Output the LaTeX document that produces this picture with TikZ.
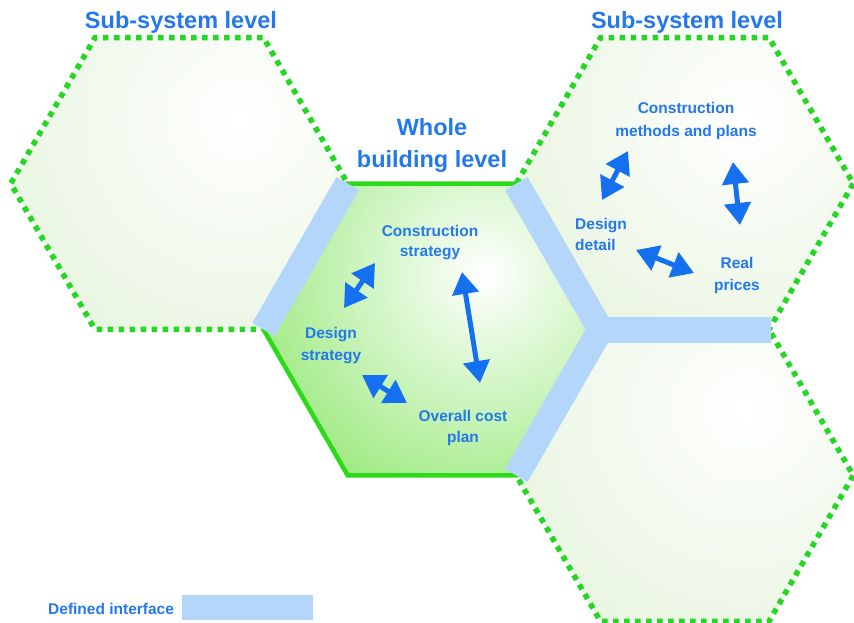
\documentclass[tikz,border=0pt]{standalone}
\usepackage{fontspec}
\setmainfont{Liberation Sans}
\usetikzlibrary{arrows.meta}

\definecolor{labelblue}{RGB}{35,120,235}
\definecolor{arrowblue}{RGB}{20,112,238}
\definecolor{bandblue}{RGB}{180,214,250}
\definecolor{dotgreen}{RGB}{35,215,35}
\definecolor{rimgreen}{RGB}{45,218,25}
\definecolor{coregreen}{RGB}{100,222,55}
\definecolor{palegreen}{RGB}{220,239,207}

\def\hexR{168.5}

\begin{document}
\begin{tikzpicture}[x=1pt,y=-1pt,
  bigtitle/.style={font=\fontsize{23.5}{32}\selectfont\bfseries, text=labelblue,
    inner sep=0pt, anchor=north, align=center},
  tag/.style={font=\fontsize{15.5}{21}\selectfont\bfseries, text=labelblue,
    inner sep=0pt, anchor=north, align=center},
  band/.style={line width=26pt, draw=bandblue, line cap=butt},
  dotrim/.style={draw=dotgreen, line width=5.5pt, dash pattern=on 5.5pt off 5.5pt},
  solidrim/.style={draw=rimgreen, line width=4.5pt, line join=miter},
  link/.style={draw=arrowblue, line width=5pt,
    {Triangle[length=22pt,width=26pt]}-{Triangle[length=22pt,width=26pt]}}
]
\useasboundingbox (0,0) rectangle (854,623);

% hexagon centres of the honeycomb
\coordinate (hubC) at (432,329.5);
\coordinate (westC) at (179.25,183.57);
\coordinate (northeastC) at (684.75,183.57);
\coordinate (southeastC) at (684.75,475.43);

% sub-system cells: pale radial glow with a dotted rim
\foreach \cell in {westC,northeastC,southeastC}{
  \begin{scope}[shift={(\cell)}]
    \begin{scope}
      \clip (0:\hexR) -- (60:\hexR) -- (120:\hexR) -- (180:\hexR)
        -- (240:\hexR) -- (300:\hexR) -- cycle;
      \shade[inner color=white, outer color=palegreen] (60,-65) circle (400);
    \end{scope}
    \draw[dotrim] (0:\hexR) -- (60:\hexR) -- (120:\hexR) -- (180:\hexR)
      -- (240:\hexR) -- (300:\hexR) -- cycle;
  \end{scope}
}

% whole building cell: strong green glow with a solid rim
\begin{scope}[shift={(hubC)}]
  \begin{scope}
    \clip (0:\hexR) -- (60:\hexR) -- (120:\hexR) -- (180:\hexR)
      -- (240:\hexR) -- (300:\hexR) -- cycle;
    \shade[inner color=white, outer color=coregreen] (53,-55) circle (390);
  \end{scope}
  \draw[solidrim] (0:\hexR) -- (60:\hexR) -- (120:\hexR) -- (180:\hexR)
    -- (240:\hexR) -- (300:\hexR) -- cycle;
\end{scope}

% shared edges carrying the defined interfaces
\coordinate (hubNW) at (347.75,183.57);
\coordinate (hubW) at (263.5,329.5);
\coordinate (hubNE) at (516.25,183.57);
\coordinate (hubE) at (600.5,329.5);
\coordinate (hubSE) at (516.25,475.43);
\coordinate (northeastSE) at (771,329.5);
\draw[band] (hubNW) -- (hubW);
\draw[band, line join=miter] (hubNE) -- (hubE) -- (hubSE);
\draw[band] (hubE) -- (northeastSE);

% level titles
\node[bigtitle] (westtitle) at (181,11) {Sub-system level};
\node[bigtitle] (easttitle) at (687,11) {Sub-system level};
\node[bigtitle] (hubtitle) at (432,118) {Whole\\building level};

% whole building level topics
\node[tag, font=\fontsize{15.5}{20}\selectfont\bfseries] (hubconstr) at (430,225) {Construction\\strategy};
\node[tag, font=\fontsize{15.5}{22}\selectfont\bfseries] (hubdesign) at (331,327) {Design\\strategy};
\node[tag] (hubcost) at (463,410) {Overall cost\\plan};

% sub-system level topics
\node[tag, font=\fontsize{15.5}{23}\selectfont\bfseries] (neconstr) at (686,102) {Construction\\methods and plans};
\node[tag, anchor=north west, align=left] (nedesign) at (575,218) {Design\\detail};
\node[tag, font=\fontsize{15.5}{22}\selectfont\bfseries] (neprices) at (737,257) {Real\\prices};

% two-way links between topics
\coordinate (hubConstrDesignA) at (375,263);
\coordinate (hubConstrDesignB) at (344,308);
\coordinate (hubConstrCostA) at (462,272);
\coordinate (hubConstrCostB) at (480,383);
\coordinate (hubDesignCostA) at (362,375);
\coordinate (hubDesignCostB) at (407,403);
\coordinate (neConstrDesignA) at (628,151);
\coordinate (neConstrDesignB) at (602,200);
\coordinate (neConstrPricesA) at (733,162);
\coordinate (neConstrPricesB) at (740,225);
\coordinate (neDesignPricesA) at (636,250);
\coordinate (neDesignPricesB) at (694,273);
\draw[link] (hubConstrDesignA) -- (hubConstrDesignB);
\draw[link] (hubConstrCostA) -- (hubConstrCostB);
\draw[link] (hubDesignCostA) -- (hubDesignCostB);
\draw[link] (neConstrDesignA) -- (neConstrDesignB);
\draw[link] (neConstrPricesA) -- (neConstrPricesB);
\draw[link] (neDesignPricesA) -- (neDesignPricesB);

% legend
\node[tag, anchor=north west] (legendtext) at (48,603) {Defined interface};
\node[fill=bandblue, inner sep=0pt, minimum width=131pt, minimum height=25pt,
  anchor=north west] (legendswatch) at (182,595) {};
\end{tikzpicture}
\end{document}
